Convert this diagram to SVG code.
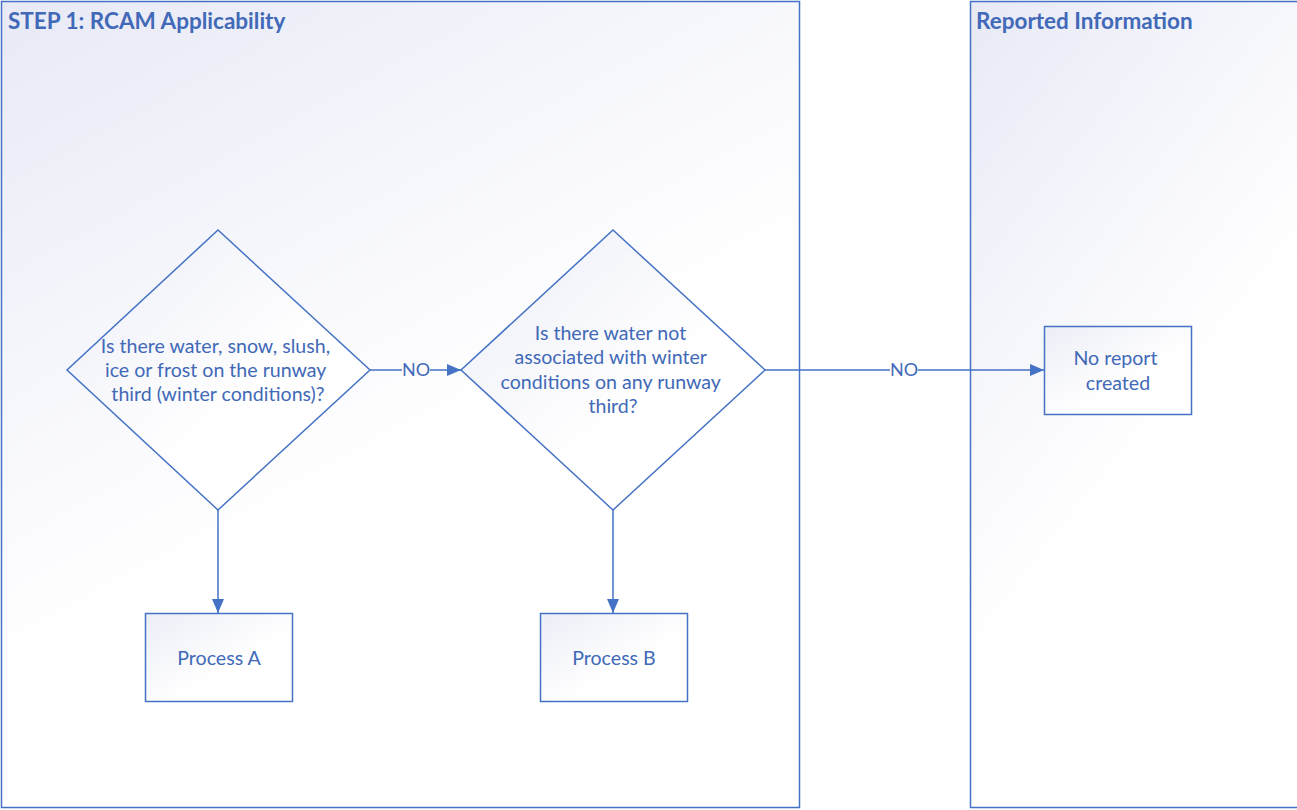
<svg xmlns="http://www.w3.org/2000/svg" width="1297" height="810" viewBox="0 0 1297 810">
  <defs>
    <linearGradient id="laneFill" x1="0" y1="0" x2="0.35" y2="0.65">
      <stop offset="0" stop-color="#e7e9f5"/>
      <stop offset="0.5" stop-color="#f4f5fb"/>
      <stop offset="1" stop-color="#ffffff"/>
    </linearGradient>
    <linearGradient id="shapeFill" x1="0" y1="0" x2="1" y2="1">
      <stop offset="0" stop-color="#eceef7"/>
      <stop offset="0.6" stop-color="#ffffff"/>
      <stop offset="1" stop-color="#ffffff"/>
    </linearGradient>
    <marker id="arrow" viewBox="0 0 10 10" refX="10" refY="5" markerWidth="14" markerHeight="12" markerUnits="userSpaceOnUse" orient="auto" preserveAspectRatio="none">
      <path d="M0,0 L10,5 L0,10 z" fill="#4472c4"/>
    </marker>
    <style>
      .lane { fill: url(#laneFill); stroke: #4472c4; stroke-width: 1.5; }
      .shape { fill: url(#shapeFill); stroke: #4472c4; stroke-width: 1.5; }
      .title { font-family: Lato, "Open Sans", sans-serif; font-weight: bold; font-size: 22.5px; fill: #4169b8; }
      .label { font-family: Lato, "Open Sans", sans-serif; font-size: 19.6px; fill: #4169b8; text-anchor: middle; }
      .edge { fill: none; stroke: #4472c4; stroke-width: 1.5; }
      .edgeLabel { font-family: Lato, "Open Sans", sans-serif; font-size: 18px; fill: #4169b8; text-anchor: middle; }
    </style>
  </defs>

  <rect width="1297" height="810" fill="#ffffff"/>

  <!-- swimlanes -->
  <g id="lane-step1">
    <rect class="lane" x="1.5" y="1.5" width="798" height="806"/>
    <text class="title" x="8" y="29">STEP 1: RCAM Applicability</text>
  </g>
  <g id="lane-reported">
    <rect class="lane" x="970.5" y="1.5" width="340" height="806"/>
    <text class="title" x="976" y="29">Reported Information</text>
  </g>

  <!-- connectors -->
  <g id="connectors">
    <line class="edge" x1="218" y1="510" x2="218" y2="613" marker-end="url(#arrow)"/>
    <line class="edge" x1="613" y1="510" x2="613" y2="613" marker-end="url(#arrow)"/>
    <line class="edge" x1="370" y1="370" x2="402" y2="370"/>
    <line class="edge" x1="430" y1="370" x2="461" y2="370" marker-end="url(#arrow)"/>
    <text class="edgeLabel" x="416" y="376">NO</text>
    <line class="edge" x1="765" y1="370" x2="890" y2="370"/>
    <line class="edge" x1="918" y1="370" x2="1044" y2="370" marker-end="url(#arrow)"/>
    <text class="edgeLabel" x="904" y="376">NO</text>
  </g>

  <!-- decision: winter conditions -->
  <g id="decision-winter">
    <polygon class="shape" points="218,230 370,370 218,510 67,370"/>
    <text class="label">
      <tspan x="218" y="353">Is there water, snow, slush,</tspan>
      <tspan x="218" y="377">ice or frost on the runway</tspan>
      <tspan x="218" y="401">third (winter conditions)?</tspan>
    </text>
  </g>

  <!-- decision: water without winter conditions -->
  <g id="decision-water">
    <polygon class="shape" points="613,230 765,370 613,510 461,370"/>
    <text class="label">
      <tspan x="613" y="340">Is there water not</tspan>
      <tspan x="613" y="364">associated with winter</tspan>
      <tspan x="613" y="389">conditions on any runway</tspan>
      <tspan x="613" y="413">third?</tspan>
    </text>
  </g>

  <g id="process-a">
    <rect class="shape" x="145.5" y="613.5" width="147" height="88"/>
    <text class="label" x="219" y="665">Process A</text>
  </g>

  <g id="process-b">
    <rect class="shape" x="540.5" y="613.5" width="147" height="88"/>
    <text class="label" x="614" y="665">Process B</text>
  </g>

  <g id="no-report">
    <rect class="shape" x="1044.5" y="326.5" width="147" height="88"/>
    <text class="label">
      <tspan x="1118" y="365">No report</tspan>
      <tspan x="1118" y="390">created</tspan>
    </text>
  </g>
</svg>
